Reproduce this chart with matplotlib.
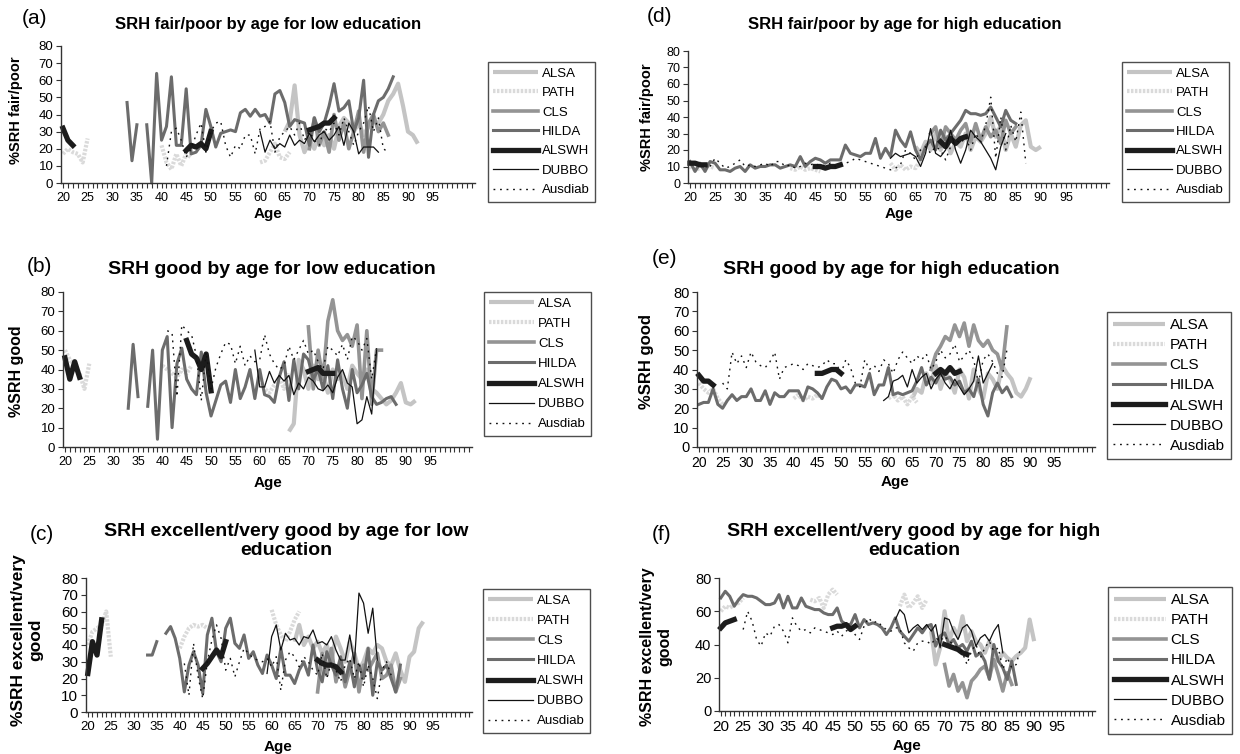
import matplotlib.pyplot as plt
import numpy as np

plt.rcParams['font.family'] = ['Liberation Sans', 'DejaVu Sans']

N = None

# ---------------- data: % by single year of age (None = gap) ----------------
# (a) SRH fair/poor, low education
a_alsa_age0, a_alsa = 65, [30, 36, 57, 28, 18, 25, 20, 30, 22, 28, 20, 33, 38, 35, 30, 35, 28, 33, 36, 35,
                           40, 48, 52, 58, 45, 30, 28, 23]
a_path = [17, 20, 18, 17, 12, 26] + [N] * 14 + [22, 12, 8, 17, 10, 17, 15] + [N] * 13 + [12, 13, 18, 23, 15, 14, 18]
a_cls_age0, a_cls = 70, [20, 38, 22, 30, 18, 40, 25, 35, 20, 30, 42, 18, 35, 40, 30, 35, 28]
a_hilda_age0, a_hilda = 33, [47, 13, 34, N, 34, 0, 64, 25, 33, 62, 22, 22, 55, 17, 18, 22, 43, 33, 21, 29,
                             30, 31, 30, 41, 43, 39, 43, 39, 40, 35, 52, 54, 47, 33, 37, 36, 35, 22, 38, 30,
                             35, 45, 58, 42, 44, 48, 30, 38, 60, 15, 40, 48, 50, 55, 62]
a_alswh = [32, 25, 22] + [N] * 22 + [19, 22, 21, 23, 20, 30] + [N] * 19 + [31, 32, 33, 35, 35, 38]
a_dubbo_age0, a_dubbo = 60, [30, 18, 25, 20, 23, 21, 28, 22, 25, 23, 29, 24, 28, 30, 25, 28, 33, 22, 35, 30,
                             17, 21, 21, 21, 18]
a_ausdiab_age0, a_ausdiab = 41, [10, 30, 32, 25, 15, 20, 28, 35, 18, 30, 35, 36, 22, 15, 22, 20, 28, 28, 17, 32,
                                 33, 36, 18, 27, 30, 33, 28, 35, 25, 30, 25, 22, 32, 30, 35, 28, 38, 30, 22, 30,
                                 35, 45, 30, 38, 20, 18]

# (d) SRH fair/poor, high education
d_alsa_age0, d_alsa = 65, [22, 18, 25, 20, 30, 20, 28, 18, 25, 22, 30, 20, 28, 25, 30, 40, 28, 35, 20, 30,
                           22, 35, 38, 22, 20, 22]
d_path = [10, 8, 9, 11, 10, 9] + [N] * 14 + [9, 8, 10, 8, 9, 8, 7] + [N] * 13 + [12, 8, 11, 8, 10, 9, 14]
d_cls_age0, d_cls = 68, [30, 34, 22, 34, 30, 26, 32, 36, 25, 36, 26, 34, 28, 32, 24, 38, 30, 34]
d_hilda_age0, d_hilda = 20, [13, 7, 12, 7, 13, 12, 8, 8, 7, 9, 10, 7, 11, 9, 10, 10, 11, 11, 9, 10,
                             11, 10, 16, 10, 13, 15, 14, 12, 14, 14, 14, 23, 18, 17, 16, 18, 18, 27, 15, 21,
                             16, 32, 26, 22, 31, 20, 14, 22, 26, 20, 32, 26, 30, 34, 38, 44, 42, 42, 41, 42,
                             46, 40, 34, 44, 38, 36]
d_alswh = [12, 12, 11, 11] + [N] * 21 + [10, 10, 9, 10, 10, 11] + [N] * 19 + [25, 22, 27, 24, 27, 28]
d_dubbo_age0, d_dubbo = 60, [15, 18, 16, 17, 18, 16, 10, 18, 33, 18, 16, 20, 32, 20, 12, 20, 32, 28, 25, 20,
                             15, 8, 22, 30]
d_ausdiab_age0, d_ausdiab = 24, [10, 15, 12, 9, 10, 12, 14, 10, 11, 10, 11, 12, 10, 13, 13, 10, 11, 9, 10, 12,
                                 11, 12, 10, 11, 12, 10, 11, 12, 13, 15, 14, 13, 12, 11, 10, 9, 8, 9, 11, 20,
                                 18, 14, 20, 22, 18, 22, 20, 14, 22, 26, 24, 28, 20, 30, 25, 35, 52, 15, 40, 20,
                                 35, 25, 43, 12]

# (b) SRH good, low education
b_alsa_age0, b_alsa = 66, [8, 12, 45, 40, 30, 42, 35, 38, 28, 40, 35, 38, 30, 42, 38, 35, 40, 30, 28, 25,
                           22, 24, 28, 33, 23, 22, 24]
b_path = [50, 45, 42, 38, 30, 43] + [N] * 14 + [42, 40, 38, 36, 40, 38, 42] + [N] * 13 + [35, 30, 28, 32, 36, 30, 38]
b_cls_age0, b_cls = 70, [62, 30, 50, 35, 65, 76, 60, 55, 58, 52, 63, 25, 60, 22, 50, 50]
b_hilda_age0, b_hilda = 33, [20, 53, 26, N, 21, 50, 4, 50, 57, 10, 43, 51, 35, 30, 27, 49, 28, 16, 24, 32,
                             34, 23, 40, 25, 31, 40, 25, 40, 27, 26, 23, 36, 44, 24, 45, 30, 48, 45, 35, 40,
                             30, 42, 25, 45, 30, 20, 40, 28, 32, 38, 26, 22, 23, 25, 26, 22]
b_alswh = [46, 35, 44, 36] + [N] * 21 + [55, 48, 46, 40, 48, 29] + [N] * 19 + [39, 40, 41, 38, 38, 38]
b_dubbo_age0, b_dubbo = 59, [50, 31, 31, 39, 33, 37, 34, 37, 27, 33, 30, 36, 34, 30, 29, 32, 28, 36, 40, 33,
                             31, 12, 14, 26, 17, 50]
b_ausdiab_age0, b_ausdiab = 41, [60, 59, 26, 63, 60, 58, 47, 24, 49, 30, 41, 48, 54, 53, 43, 52, 42, 47, 44, 45,
                                 58, 48, 43, 40, 42, 52, 45, 50, 55, 48, 50, 44, 40, 52, 50, 47, 53, 45, 57, 55,
                                 50, 56, 35, 51]

# (e) SRH good, high education
e_alsa_age0, e_alsa = 65, [25, 30, 28, 38, 33, 42, 30, 38, 35, 28, 40, 36, 25, 40, 30, 25, 38, 35, 30, 42,
                           38, 35, 28, 26, 30, 36]
e_path = [33, 30, 28, 30, 25, 22] + [N] * 14 + [25, 27, 24, 26, 25, 27, 25] + [N] * 13 + [25, 27, 24, 26, 22, 26, 23]
e_cls_age0, e_cls = 69, [40, 48, 52, 57, 55, 63, 57, 64, 52, 63, 55, 52, 55, 50, 48, 40, 62]
e_hilda_age0, e_hilda = 20, [22, 23, 23, 30, 22, 20, 24, 27, 24, 26, 26, 30, 24, 24, 29, 22, 28, 26, 26, 29,
                             29, 29, 24, 31, 30, 28, 25, 31, 35, 34, 30, 31, 28, 32, 32, 31, 38, 27, 32, 32,
                             41, 27, 28, 27, 28, 29, 34, 41, 32, 36, 33, 38, 35, 36, 32, 34, 28, 30, 26, 35,
                             22, 16, 28, 33, 28, 31, 26]
e_alswh = [37, 34, 34, 32] + [N] * 21 + [38, 38, 39, 40, 40, 38] + [N] * 19 + [38, 40, 38, 41, 38, 39]
e_dubbo_age0, e_dubbo = 59, [24, 26, 34, 35, 37, 31, 40, 33, 36, 38, 30, 35, 38, 33, 30, 35, 31, 27, 30, 34,
                             47, 33, 38, 43]
e_ausdiab_age0, e_ausdiab = 25, [33, 30, 49, 43, 47, 41, 49, 44, 42, 41, 44, 49, 35, 41, 42, 43, 42, 40, 43, 42,
                                 41, 42, 45, 43, 43, 38, 45, 41, 33, 31, 45, 40, 42, 39, 45, 43, 38, 45, 49, 46,
                                 43, 47, 45, 48, 40, 44, 50, 46, 48, 53, 44, 47, 50, 45, 33, 45, 48, 44, 38, 36,
                                 50]

# (c) SRH excellent/very good, low education
c_alsa_age0, c_alsa = 65, [42, 52, 40, 45, 38, 42, 35, 40, 30, 45, 38, 30, 42, 35, 25, 30, 38, 35, 40, 38,
                           30, 28, 35, 25, 18, 33, 36, 50, 54]
c_path = [40, 48, 50, 52, 60, 33] + [N] * 14 + [38, 45, 50, 52, 51, 52, 50] + [N] * 13 + [61, 52, 46, 42, 48, 55, 60]
c_cls_age0, c_cls = 70, [12, 35, 22, 38, 18, 30, 15, 25, 35, 12, 28, 25, 30, 35, 20, 22, 28, 12, 20]
c_hilda_age0, c_hilda = 33, [34, 34, 42, N, 47, 51, 44, 32, 12, 28, 36, 28, 11, 46, 56, 36, 30, 50, 56, 41,
                             38, 46, 32, 36, 28, 23, 34, 28, 20, 38, 22, 22, 17, 25, 30, 22, 40, 25, 18, 36,
                             28, 22, 33, 18, 30, 15, 28, 20, 38, 10, 30, 25, 28, 20, 12, 28]
c_alswh = [23, 42, 34, 55] + [N] * 21 + [26, 29, 33, 37, 33, 42] + [N] * 19 + [31, 29, 28, 28, 27, 24]
c_dubbo_age0, c_dubbo = 59, [23, 45, 52, 37, 47, 43, 44, 40, 45, 44, 49, 41, 42, 40, 45, 37, 31, 31, 46, 29,
                             71, 65, 47, 62, 31]
c_ausdiab_age0, c_ausdiab = 41, [29, 10, 41, 21, 8, 30, 43, 52, 44, 25, 32, 21, 30, 38, 35, 32, 31, 30, 32, 27,
                                 33, 13, 31, 36, 33, 27, 33, 30, 25, 22, 35, 20, 30, 25, 18, 28, 32, 20, 30, 15,
                                 28, 20, 8, 25, 30, 22]

# (f) SRH excellent/very good, high education
f_alsa_age0, f_alsa = 67, [48, 28, 38, 60, 42, 50, 45, 57, 42, 48, 42, 40, 35, 42, 36, 30, 35, 32, 30, 33,
                           35, 38, 55, 42]
f_path = [60, 63, 62, 64, 65, 68] + [N] * 14 + [67, 66, 68, 62, 70, 73, 70] + [N] * 13 + [63, 70, 62, 65, 69, 62, 67]
f_cls_age0, f_cls = 70, [28, 15, 22, 12, 17, 8, 18, 21, 25, 27, 20, 31, 22, 12, 23, 16]
f_hilda_age0, f_hilda = 20, [68, 72, 69, 63, 67, 70, 69, 69, 68, 66, 64, 64, 65, 70, 62, 69, 62, 62, 68, 63,
                             62, 61, 61, 59, 58, 58, 62, 54, 52, 52, 58, 50, 55, 52, 53, 52, 50, 46, 50, 56,
                             48, 45, 42, 46, 50, 47, 51, 52, 39, 45, 47, 40, 43, 38, 40, 36, 42, 33, 35, 30,
                             19, 40, 30, 26, 19, 30, 16]
f_alswh = [50, 53, 54, 55] + [N] * 21 + [50, 51, 51, 52, 49, 51] + [N] * 19 + [40, 39, 38, 37, 35, 34]
f_dubbo_age0, f_dubbo = 59, [55, 61, 58, 47, 50, 52, 49, 52, 48, 52, 38, 56, 55, 48, 43, 50, 52, 48, 39, 44,
                             46, 42, 48, 52, 35]
f_ausdiab_age0, f_ausdiab = 25, [49, 60, 54, 43, 39, 47, 45, 51, 52, 48, 41, 56, 51, 48, 49, 47, 50, 49, 48, 47,
                                 46, 48, 45, 48, 50, 46, 43, 51, 56, 53, 54, 51, 49, 48, 50, 50, 41, 38, 36, 41,
                                 42, 42, 40, 44, 42, 45, 42, 40, 38, 35, 28, 36, 40, 32, 38, 42, 36, 38, 25, 32,
                                 26, 28, 38]

names = ['ALSA', 'PATH', 'CLS', 'HILDA', 'ALSWH', 'DUBBO', 'Ausdiab']

# ---------------- styling ----------------
style = {
    'ALSA':    dict(color='#c4c4c4', lw=3.0, solid_capstyle='butt'),
    'PATH':    dict(color='#dadada', lw=3.0, dashes=(0.6, 0.35)),
    'CLS':     dict(color='#949494', lw=2.6),
    'HILDA':   dict(color='#6c6c6c', lw=2.2),
    'ALSWH':   dict(color='#1c1c1c', lw=3.8),
    'DUBBO':   dict(color='#111111', lw=0.9),
    'Ausdiab': dict(color='#111111', lw=1.0, dashes=(1.3, 3.4)),
}

W, H = 1240, 754


def fx(x):
    return x / W


def fy(y):
    return 1 - y / H


def rect(l, t, r, b):
    return [fx(l), fy(b), (r - l) / W, (b - t) / H]


def to_xy(age0, vals):
    y = np.array([np.nan if v is None else v for v in vals], dtype=float)
    return np.arange(age0, age0 + len(y)), y


panels = [
    dict(tag='(a)', tag_xy=(22, 19), box=(61, 46, 475, 183),
         title='SRH fair/poor by age for low education', title_xy=(268, 25), tfs=12,
         ylabel='%SRH fair/poor', ylab_xy=(16, 110), yfs=10.5, age_xy=(268, 214),
         xtfs=9, ytfs=9.5, ystep=10, leg_xy=(488, 62), lfs=9.5, lsp=0.55,
         data=[(a_alsa_age0, a_alsa), (20, a_path), (a_cls_age0, a_cls), (a_hilda_age0, a_hilda),
               (20, a_alswh), (a_dubbo_age0, a_dubbo), (a_ausdiab_age0, a_ausdiab)]),
    dict(tag='(d)', tag_xy=(647, 17), box=(688, 51, 1109, 183),
         title='SRH fair/poor by age for high education', title_xy=(905, 25), tfs=12,
         ylabel='%SRH fair/poor', ylab_xy=(647, 117), yfs=10.5, age_xy=(899, 214),
         xtfs=9, ytfs=9, ystep=10, leg_xy=(1122, 62), lfs=9.5, lsp=0.55,
         data=[(d_alsa_age0, d_alsa), (20, d_path), (d_cls_age0, d_cls), (d_hilda_age0, d_hilda),
               (20, d_alswh), (d_dubbo_age0, d_dubbo), (d_ausdiab_age0, d_ausdiab)]),
    dict(tag='(b)', tag_xy=(27, 266), box=(63, 292, 472, 447),
         title='SRH good by age for low education', title_xy=(272, 270), tfs=14,
         ylabel='%SRH good', ylab_xy=(17, 371), yfs=11.5, age_xy=(268, 483),
         xtfs=9, ytfs=9.5, ystep=10, leg_xy=(484, 292), lfs=9.5, lsp=0.6,
         data=[(b_alsa_age0, b_alsa), (20, b_path), (b_cls_age0, b_cls), (b_hilda_age0, b_hilda),
               (20, b_alswh), (b_dubbo_age0, b_dubbo), (b_ausdiab_age0, b_ausdiab)]),
    dict(tag='(e)', tag_xy=(652, 259), box=(697, 292, 1095, 447),
         title='SRH good by age for high education', title_xy=(891, 270), tfs=14,
         ylabel='%SRH good', ylab_xy=(647, 362), yfs=12, age_xy=(895, 482),
         xtfs=10, ytfs=10.5, ystep=10, leg_xy=(1107, 312), lfs=11, lsp=0.4,
         data=[(e_alsa_age0, e_alsa), (20, e_path), (e_cls_age0, e_cls), (e_hilda_age0, e_hilda),
               (20, e_alswh), (e_dubbo_age0, e_dubbo), (e_ausdiab_age0, e_ausdiab)]),
    dict(tag='(c)', tag_xy=(30, 534), box=(86, 578, 472, 712),
         title='SRH excellent/very good by age for low\neducation', title_xy=(286, 541), tfs=14,
         ylabel='%SRH excellent/very\ngood', ylab_xy=(27, 640), yfs=12.5, age_xy=(278, 747),
         xtfs=9.5, ytfs=11, ystep=10, leg_xy=(483, 589), lfs=9.5, lsp=0.6,
         data=[(c_alsa_age0, c_alsa), (20, c_path), (c_cls_age0, c_cls), (c_hilda_age0, c_hilda),
               (20, c_alswh), (c_dubbo_age0, c_dubbo), (c_ausdiab_age0, c_ausdiab)]),
    dict(tag='(f)', tag_xy=(652, 535), box=(719, 578, 1095, 711),
         title='SRH excellent/very good by age for high\neducation', title_xy=(914, 541), tfs=14,
         ylabel='%SRH excellent/very\ngood', ylab_xy=(656, 647), yfs=11.5, age_xy=(907, 746),
         xtfs=11, ytfs=10.5, ystep=20, leg_xy=(1108, 587), lfs=11, lsp=0.4,
         data=[(f_alsa_age0, f_alsa), (20, f_path), (f_cls_age0, f_cls), (f_hilda_age0, f_hilda),
               (20, f_alswh), (f_dubbo_age0, f_dubbo), (f_ausdiab_age0, f_ausdiab)]),
]

fig = plt.figure(figsize=(W / 100, H / 100), dpi=100)

for p in panels:
    ax = fig.add_axes(rect(*p['box']))
    for name, (age0, vals) in zip(names, p['data']):
        x, y = to_xy(age0, vals)
        ax.plot(x, y, label=name, clip_on=False, **style[name])

    ax.set_xlim(19.6, 103.6)
    ax.set_ylim(0, 80)
    ages = np.arange(20, 104)
    ax.set_xticks(ages)
    ax.set_xticklabels([str(a) if a % 5 == 0 and a <= 95 else '' for a in ages], fontsize=p['xtfs'])
    ax.set_yticks(np.arange(0, 81, p['ystep']))
    ax.tick_params(axis='y', labelsize=p['ytfs'], length=3.5, width=0.8, pad=2, color='#333333')
    ax.tick_params(axis='x', length=3.5, width=0.8, pad=3, color='#333333')
    for s in ['top', 'right']:
        ax.spines[s].set_visible(False)
    for s in ['left', 'bottom']:
        ax.spines[s].set_linewidth(1.0)
        ax.spines[s].set_color('#333333')

    fig.text(fx(p['tag_xy'][0]), fy(p['tag_xy'][1]), p['tag'], fontsize=15, ha='left', va='center')
    fig.text(fx(p['title_xy'][0]), fy(p['title_xy'][1]), p['title'], fontsize=p['tfs'],
             fontweight='bold', ha='center', va='center', multialignment='center', linespacing=1.2)
    fig.text(fx(p['ylab_xy'][0]), fy(p['ylab_xy'][1]), p['ylabel'], fontsize=p['yfs'],
             fontweight='bold', rotation=90, ha='center', va='center', multialignment='center',
             linespacing=1.15)
    fig.text(fx(p['age_xy'][0]), fy(p['age_xy'][1]), 'Age', fontsize=11, fontweight='bold',
             ha='center', va='center')

    leg = ax.legend(loc='upper left', bbox_to_anchor=(fx(p['leg_xy'][0]), fy(p['leg_xy'][1])),
                    bbox_transform=fig.transFigure, borderaxespad=0, fontsize=p['lfs'],
                    frameon=True, fancybox=False, edgecolor='#222222', handlelength=3.4,
                    handletextpad=0.3, labelspacing=p['lsp'], borderpad=0.4)
    leg.get_frame().set_linewidth(1.0)

fig.savefig('out.png', dpi=100)
